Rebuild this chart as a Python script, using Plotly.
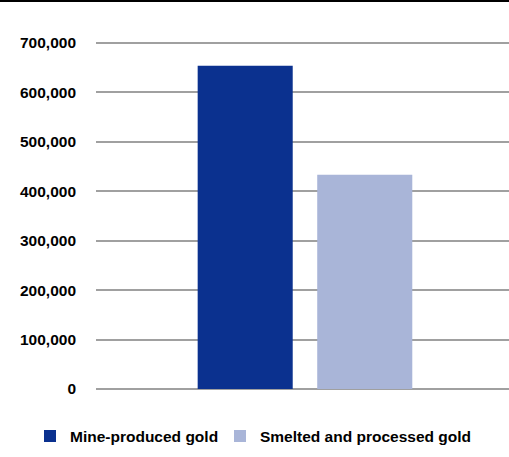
import plotly.graph_objects as go

categories = [""]
series_names = ["Mine-produced gold", "Smelted and processed gold"]
series_values = [[654000], [433500]]
series_colors = ["#0B318F", "#A9B5D8"]
tick_vals = [0, 100000, 200000, 300000, 400000, 500000, 600000, 700000]
tick_text = ["0", "100,000", "200,000", "300,000", "400,000", "500,000", "600,000", "700,000"]

W, H = 509, 457
ml, mr, mt, mb = 96, 0, 40, 65
font = "Liberation Sans, Arial, sans-serif"

fig = go.Figure()
legend_ids = ["legend", "legend2"]
for name, vals, col, lg in zip(series_names, series_values, series_colors, legend_ids):
    fig.add_trace(go.Bar(x=categories, y=vals, name=name, legend=lg,
                         marker=dict(color=col, line=dict(width=0))))

ph = H - mt - mb
pw = W - ml - mr
legend_font = dict(family=font, size=15.5, color="#000000", weight="bold")
fig.update_layout(
    width=W, height=H,
    margin=dict(l=ml, r=mr, t=mt, b=mb, pad=0),
    paper_bgcolor="white", plot_bgcolor="white",
    barmode="group", bargap=0.421, bargroupgap=0.205,
    font=dict(family=font, size=15.5, color="#000000"),
    xaxis=dict(type="category", range=[-0.506, 0.494], showticklabels=False, showgrid=False,
               zeroline=False, showline=False, fixedrange=True),
    yaxis=dict(range=[-6000, 706000], tickvals=tick_vals, ticktext=tick_text,
               showgrid=True, gridcolor="#A0A0A0", gridwidth=1.5, zeroline=False,
               showline=False, ticks="", ticklabelstandoff=19,
               tickfont=dict(family=font, size=15.5, color="#000000", weight="bold")),
    showlegend=True,
    legend=dict(orientation="h", x=30 / W, xanchor="left", xref="container", y=0.045, yanchor="middle",
                yref="container", font=legend_font, itemclick=False, itemdoubleclick=False),
    legend2=dict(orientation="h", x=220 / W, xanchor="left", xref="container", y=0.045, yanchor="middle",
                 yref="container", font=legend_font, itemclick=False, itemdoubleclick=False),
    shapes=[dict(type="line", xref="paper", yref="paper", x0=-ml / pw, x1=1.0,
                 y0=(H - mb - 1) / ph, y1=(H - mb - 1) / ph,
                 line=dict(color="#000000", width=2))],
)

fig.write_html("out.html")
